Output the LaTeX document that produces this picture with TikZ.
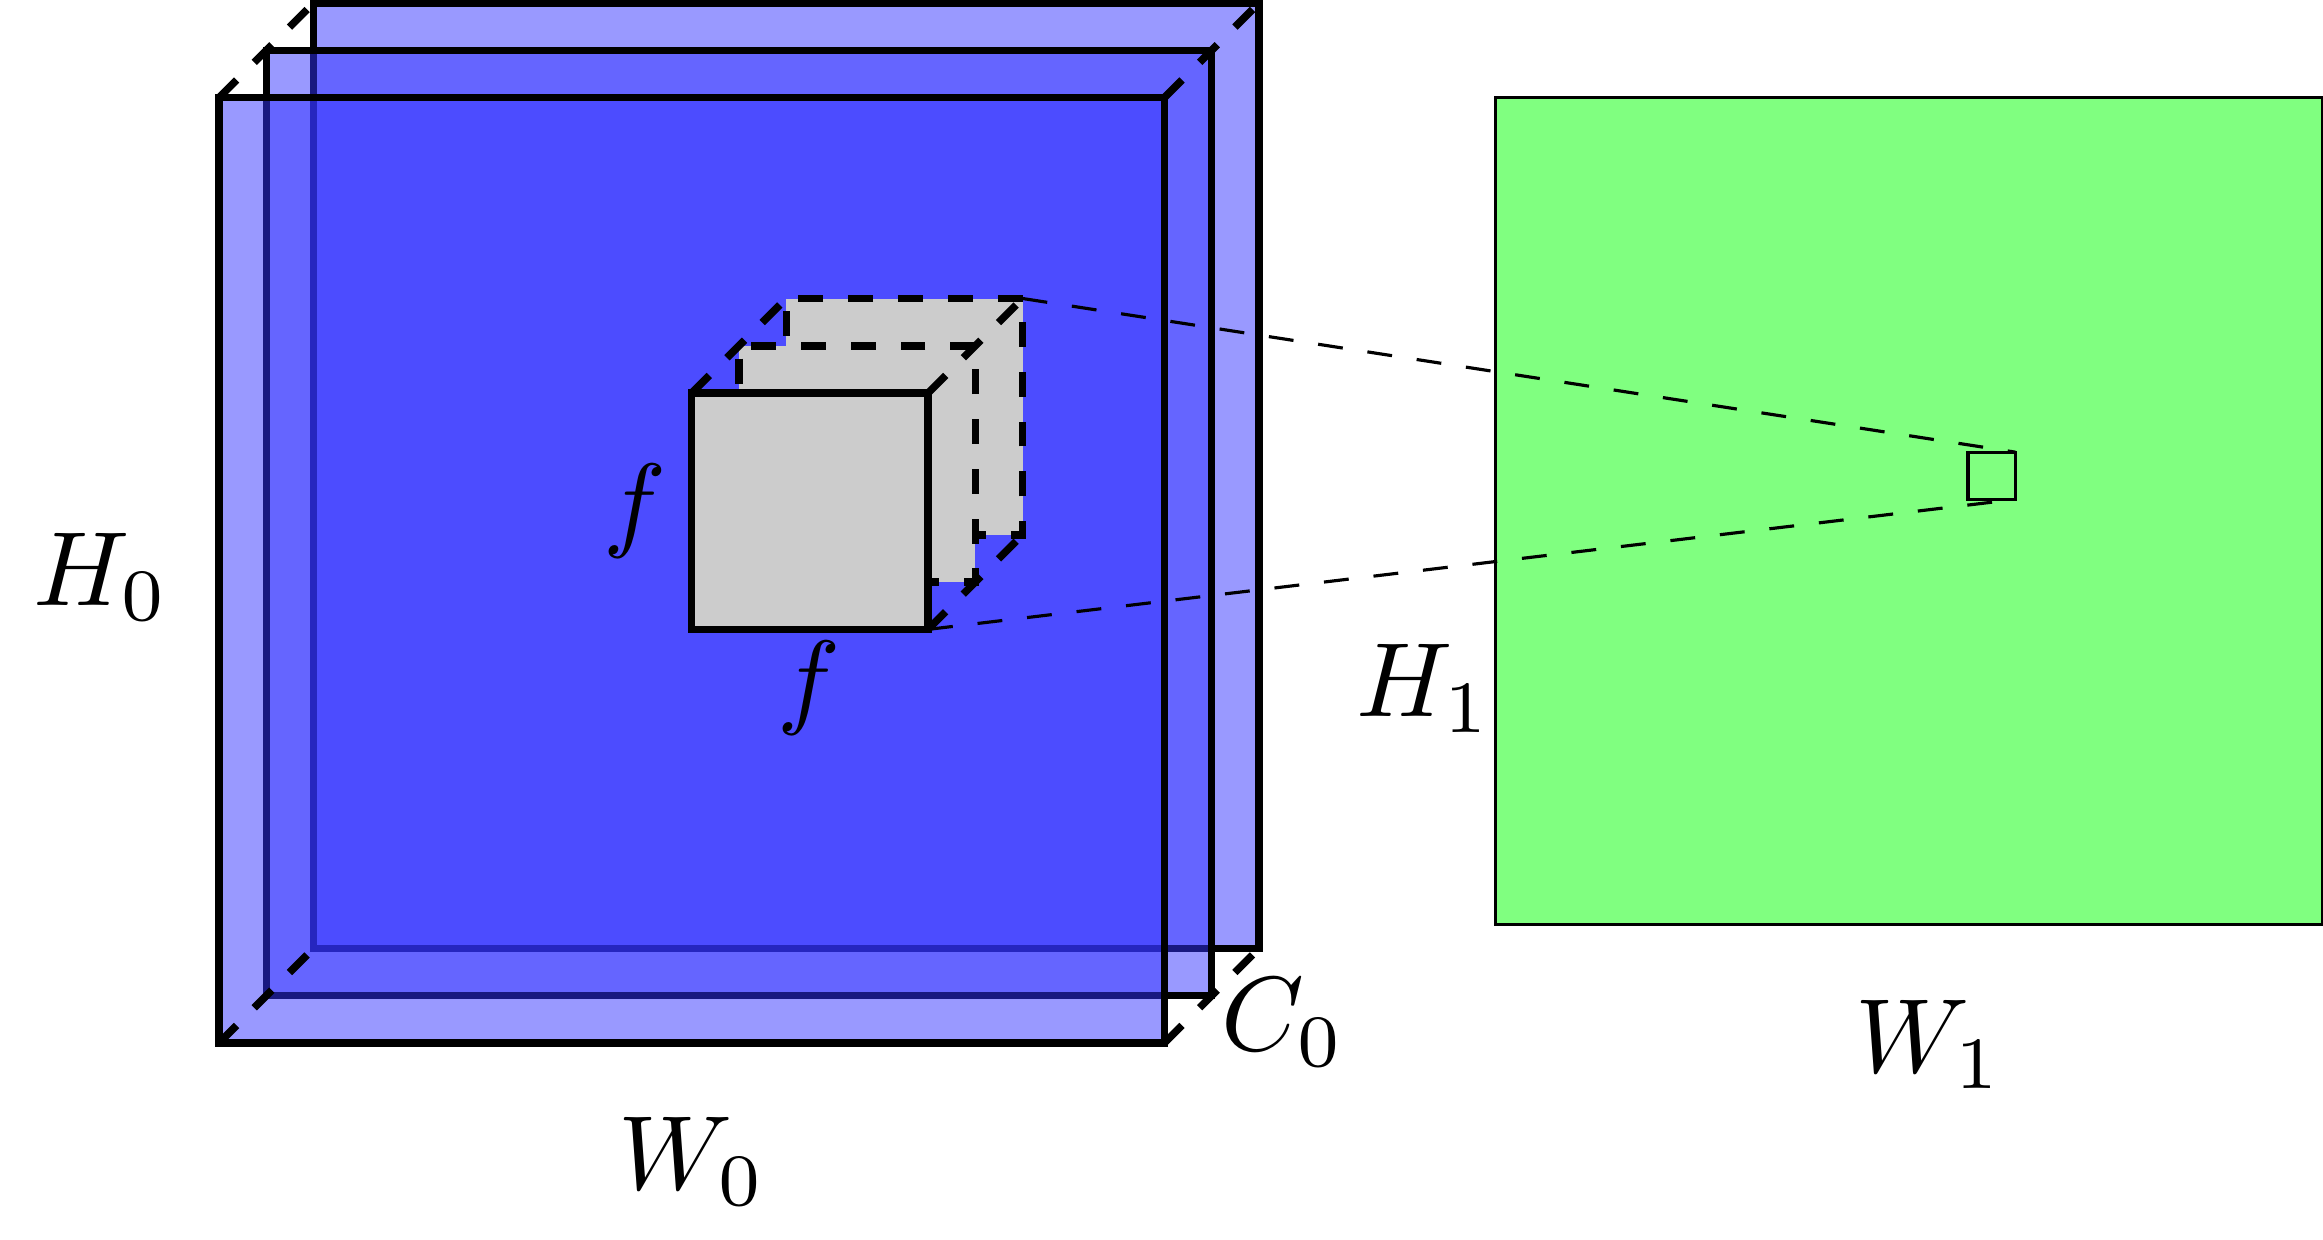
\documentclass[tikz,border=0pt]{standalone}
\definecolor{layerblue}{HTML}{3333FF}
\definecolor{sheetgreen}{HTML}{80FF80}
\definecolor{cubegray}{HTML}{CCCCCC}
\tikzset{
  layer/.style={draw=black,line width=4.5pt,fill=layerblue,fill opacity=0.5},
  diag/.style={draw=black,line width=4.5pt,dash pattern=on 15pt off 15pt},
  cubeface/.style={draw=black,line width=4.5pt,fill=cubegray},
  hiddenface/.style={cubeface,dash pattern=on 15pt off 15pt},
  sheet/.style={draw=black,line width=1.9pt,fill=sheetgreen},
  ray/.style={draw=black,line width=1.9pt,dash pattern=on 15pt off 15pt},
  lbl/.style={scale=6.35,inner sep=0pt}
}
\begin{document}
\begin{tikzpicture}
\useasboundingbox (-4.633,-4.146) rectangle (44.51,22.065);
% stack of layers
\coordinate (fBL) at (0,0);  \coordinate (fTR) at (20,20);
\coordinate (fTL) at (0,20); \coordinate (fBR) at (20,0);
\coordinate (mBL) at (1,1);  \coordinate (mTR) at (21,21);
\coordinate (bBL) at (2,2);  \coordinate (bTR) at (22,22);
\coordinate (bTL) at (2,22); \coordinate (bBR) at (22,2);
\path[layer] (bBL) rectangle (bTR);
\path[layer] (mBL) rectangle (mTR);
\path[layer] (fBL) rectangle (fTR);
\draw[diag] (fBL) -- (bBL);
\draw[diag] (fTL) -- (bTL);
\draw[diag] (fTR) -- (bTR);
\draw[diag] (fBR) -- (bBR);
% cube
\coordinate (c1BL) at (10,8.75);  \coordinate (c1TR) at (15,13.75);
\coordinate (c1TL) at (10,13.75); \coordinate (c1BR) at (15,8.75);
\coordinate (c2BL) at (11,9.75);  \coordinate (c2TR) at (16,14.75);
\coordinate (c2TL) at (11,14.75); \coordinate (c2BR) at (16,9.75);
\coordinate (c3BL) at (12,10.75); \coordinate (c3TR) at (17,15.75);
\coordinate (c3TL) at (12,15.75); \coordinate (c3BR) at (17,10.75);
\path[hiddenface] (c3TR) -- (c3TL) -- (c3BL) -- (c3BR) -- cycle;
\path[hiddenface] (c2TR) -- (c2TL) -- (c2BL) -- (c2BR) -- cycle;
\path[cubeface] (c1BL) rectangle (c1TR);
\draw[diag] (c1TL) -- (c3TL);
\draw[diag] (c1TR) -- (c3TR);
\draw[diag] (c1BR) -- (c3BR);
% output sheet
\coordinate (sBL) at (27,2.5);  \coordinate (sTR) at (44.5,20);
\coordinate (pBL) at (37,11.5); \coordinate (pTR) at (38,12.5);
\coordinate (pBR) at (38,11.5);
\path[sheet] (sBL) rectangle (sTR);
\draw[line width=1.9pt] (pBL) rectangle (pTR);
\draw[ray] (c3TR) -- (pTR);
\draw[ray] (c1BR) -- (pBR);
% labels
\node[lbl] (h0) at (-2.495,9.86) {$H_0$};
\node[lbl] (w0) at (10.01,-2.5) {$W_0$};
\node[lbl] (c0) at (22.51,0.44) {$C_0$};
\node[lbl] (w1) at (36.18,-0.03) {$W_1$};
\node[lbl] (h1) at (25.5,7.5) {$H_1$};
\node[lbl] (fl) at (8.8,11.25) {$f$};
\node[lbl] (fb) at (12.49,7.5) {$f$};
\end{tikzpicture}
\end{document}
